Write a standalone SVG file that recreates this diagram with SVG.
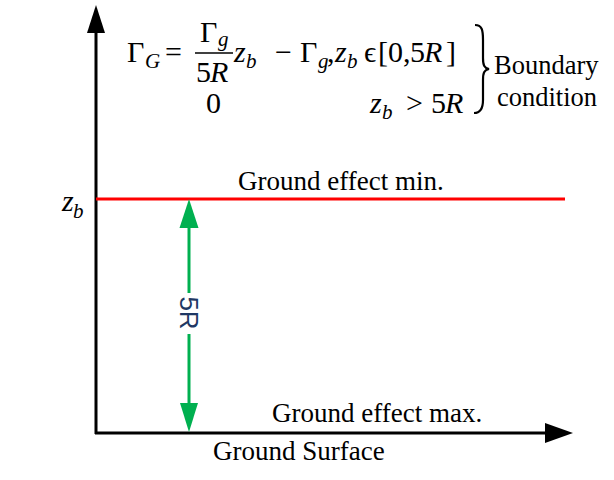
<svg xmlns="http://www.w3.org/2000/svg" width="614" height="480" viewBox="0 0 614 480">
<style>
.t{font-family:"Liberation Serif","Times New Roman",serif;font-size:27px;fill:#000}
.m{font-family:"Liberation Serif","Times New Roman",serif;font-size:30px;fill:#000}
.i{font-style:italic}
.s{font-family:"Liberation Serif","Times New Roman",serif;font-size:21px;font-style:italic;fill:#000}
.lbl{font-family:"Liberation Sans",Arial,sans-serif;font-size:26px;fill:#1f3864}
</style>
<rect width="614" height="480" fill="#fff"/>
<g id="connectors">
  <line x1="96" y1="434" x2="96" y2="32" stroke="#000" stroke-width="3"/>
  <polygon points="96,5 87,33 105,33" fill="#000"/>
  <line x1="95" y1="433" x2="546" y2="433" stroke="#000" stroke-width="3"/>
  <polygon points="573,433 545,423 545,443" fill="#000"/>
  <line x1="96" y1="199" x2="565" y2="199" stroke="#ff0000" stroke-width="3"/>
  <line x1="189" y1="226" x2="189" y2="293" stroke="#00b050" stroke-width="3"/>
  <line x1="189" y1="334" x2="189" y2="405" stroke="#00b050" stroke-width="3"/>
  <polygon points="189,199 179.5,228 198.5,228" fill="#00b050"/>
  <polygon points="189,432 180,403 198,403" fill="#00b050"/>
</g>
<g id="label-5R">
  <text class="lbl" transform="translate(180,313) rotate(90)" text-anchor="middle">5R</text>
</g>
<g id="zb-axis-label">
  <text class="m i" x="62" y="211">z</text>
  <text class="s" x="73" y="218">b</text>
</g>
<g id="label-min">
  <text class="t" x="238" y="190">Ground effect min.</text>
</g>
<g id="label-max">
  <text class="t" x="272" y="422">Ground effect max.</text>
</g>
<g id="label-surface">
  <text class="t" x="213" y="460">Ground Surface</text>
</g>
<g id="formula">
  <text class="m" x="127" y="62">Γ</text>
  <text class="s" x="145" y="68">G</text>
  <text class="m" x="165" y="62">=</text>
  <text class="m" x="200" y="42">Γ</text>
  <text class="s" x="218" y="46">g</text>
  <line x1="195" y1="53" x2="233" y2="53" stroke="#000" stroke-width="1.5"/>
  <text class="m" x="196" y="82">5</text>
  <text class="m i" x="210" y="82">R</text>
  <text class="m i" x="234" y="62">z</text>
  <text class="s" x="246" y="68">b</text>
  <text class="m" x="275" y="62">−</text>
  <text class="m" x="300" y="62">Γ</text>
  <text class="s" x="318" y="68">g</text>
  <text class="m" x="327" y="62">,</text>
  <text class="m i" x="335" y="62">z</text>
  <text class="s" x="347" y="68">b</text>
  <text class="m" x="364" y="62">ϵ</text>
  <text class="m" x="378" y="62">[</text>
  <text class="m" x="388" y="62">0</text>
  <text class="m" x="403" y="62">,</text>
  <text class="m" x="410" y="62">5</text>
  <text class="m i" x="424" y="62">R</text>
  <text class="m" x="446" y="62">]</text>
  <text class="m" x="206" y="113">0</text>
  <text class="m i" x="370" y="113">z</text>
  <text class="s" x="382" y="119">b</text>
  <text class="m" x="406" y="113">&gt;</text>
  <text class="m" x="431" y="113">5</text>
  <text class="m i" x="445" y="113">R</text>
  <path d="M475,25 C482,25 483,30 483,40 L483,58 C483,65 484,68 489,69 C484,70 483,73 483,80 L483,100 C483,108 481,113 474,113" fill="none" stroke="#000" stroke-width="2.2"/>
</g>
<g id="boundary-label">
  <text class="t" x="494" y="74" style="font-size:26.5px">Boundary</text>
  <text class="t" x="497" y="106" style="font-size:26.5px">condition</text>
</g>
</svg>
